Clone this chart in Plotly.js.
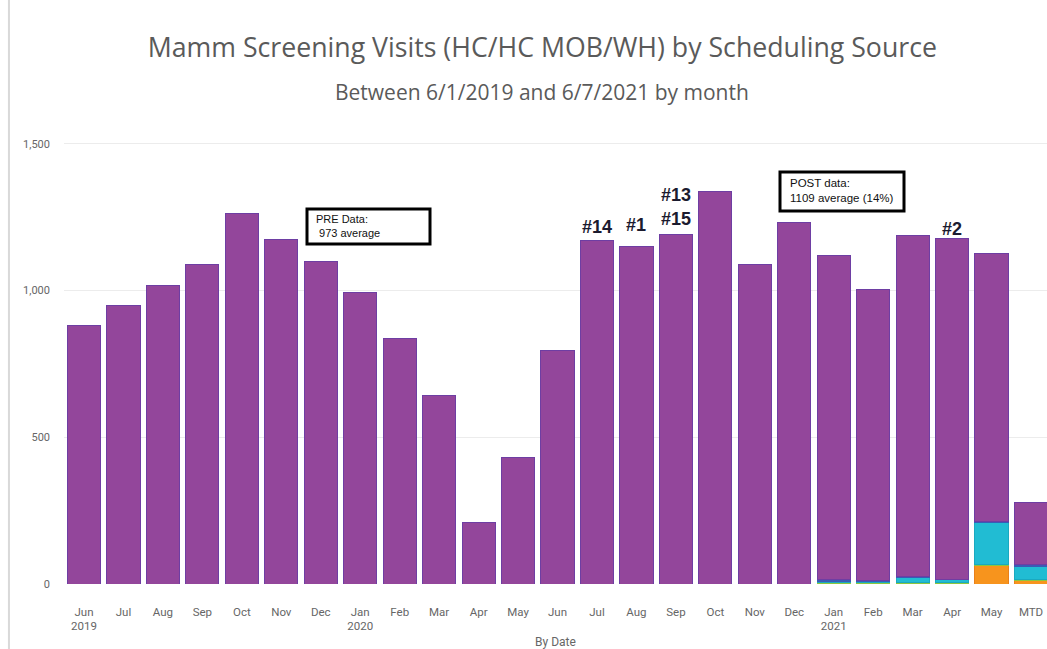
<!DOCTYPE html>
<html>
<head>
<meta charset="utf-8">
<script src="https://cdn.plot.ly/plotly-3.0.1.min.js"></script>
<style>
  html, body { margin: 0; padding: 0; background: #fff; }
  #chart { width: 1047px; height: 649px; }
</style>
</head>
<body>
<div id="chart"></div>
<script>
// Categories (months) and tick labels
const categories = ["Jun 2019","Jul 2019","Aug 2019","Sep 2019","Oct 2019","Nov 2019","Dec 2019",
  "Jan 2020","Feb 2020","Mar 2020","Apr 2020","May 2020","Jun 2020","Jul 2020","Aug 2020","Sep 2020",
  "Oct 2020","Nov 2020","Dec 2020","Jan 2021","Feb 2021","Mar 2021","Apr 2021","May 2021","MTD"];
const tickLabels = ["Jun<br>2019","Jul","Aug","Sep","Oct","Nov","Dec",
  "Jan<br>2020","Feb","Mar","Apr","May","Jun","Jul","Aug","Sep",
  "Oct","Nov","Dec","Jan<br>2021","Feb","Mar","Apr","May","MTD"];

// Total visits per month
const totals = [880, 948, 1016, 1087, 1261, 1173, 1098, 992, 835, 641, 208, 430, 794,
  1169, 1149, 1190, 1336, 1087, 1231, 1118, 1002, 1186, 1176, 1125, 276];

// Minor scheduling sources (only present from Jan 2021 on)
const orangeSrc = [0,0,0,0,0,0,0,0,0,0,0,0,0,0,0,0,0,0,0, 2, 2, 3, 2, 62, 12];
const greenSrc  = [0,0,0,0,0,0,0,0,0,0,0,0,0,0,0,0,0,0,0, 3, 2, 3, 2, 4, 4];
const cyanSrc   = [0,0,0,0,0,0,0,0,0,0,0,0,0,0,0,0,0,0,0, 5, 5, 15, 10, 143, 45];
const blueSrc   = [0,0,0,0,0,0,0,0,0,0,0,0,0,0,0,0,0,0,0, 4, 3, 3, 3, 3, 5];
const purpleSrc = totals.map((t, i) => t - orangeSrc[i] - greenSrc[i] - cyanSrc[i] - blueSrc[i]);

const yTicks = [0, 500, 1000, 1500];
const yTickText = ["0", "500", "1,000", "1,500"];

function bar(name, y, color, lineColor) {
  return {
    type: "bar", name: name, x: categories, y: y,
    marker: { color: color, line: { color: lineColor, width: 1 } },
    hoverinfo: "x+y+name"
  };
}

const data = [
  bar("Orange source", orangeSrc, "#f7941d", "#e8801a"),
  bar("Green source", greenSrc, "#8cc63f", "#8cc63f"),
  bar("Cyan source", cyanSrc, "#21bcd3", "#1aa9c0"),
  bar("Blue source", blueSrc, "#3b5bb5", "#3b5bb5"),
  bar("Purple source", purpleSrc, "#93469b", "#6e3ea3")
];

const annFont = { family: "Liberation Sans, Arial, sans-serif", size: 18, color: "#1b1b2f" };
const labelAnn = (x, y, t) => ({
  x: x, y: y, xref: "x", yref: "y", text: "<b>" + t + "</b>", showarrow: false,
  font: annFont, xanchor: "center", yanchor: "middle"
});

const layout = {
  width: 1047, height: 649,
  margin: { l: 64, r: 0, t: 129, b: 65 },
  paper_bgcolor: "#ffffff", plot_bgcolor: "#ffffff",
  barmode: "stack", bargap: 0.16,
  showlegend: false,
  font: { family: "Roboto, Open Sans, sans-serif", color: "#666" },
  title: {
    text: "Mamm Screening Visits (HC/HC MOB/WH) by Scheduling Source",
    font: { family: "Open Sans, Roboto, sans-serif", size: 26.7, color: "#5a5a5a" },
    x: 0.518, xanchor: "center", y: 0.927, yanchor: "middle"
  },
  xaxis: {
    type: "category",
    tickmode: "array", tickvals: categories, ticktext: tickLabels,
    range: [-0.507, 24.405],
    tickfont: { size: 11.5, color: "#666" },
    showgrid: false, zeroline: false, showline: false, ticks: "",
    ticklabelstandoff: 19,
    title: { text: "By Date", font: { size: 12, color: "#666" }, standoff: 6 },
    fixedrange: true
  },
  yaxis: {
    range: [0, 1550],
    tickmode: "array", tickvals: yTicks, ticktext: yTickText,
    tickfont: { size: 11, color: "#666" },
    showgrid: true, gridcolor: "#ececec", gridwidth: 1,
    zeroline: false, showline: false, ticks: "",
    ticklabelstandoff: 13,
    fixedrange: true
  },
  shapes: [
    { type: "line", xref: "paper", yref: "paper", x0: -0.056, x1: -0.056, y0: -0.2, y1: 1.3,
      line: { color: "#d9d9d9", width: 2 } },
    { type: "rect", xref: "paper", yref: "paper",
      x0: (307 - 64) / 983, x1: (430 - 64) / 983,
      y0: (584 - 244) / 455, y1: (584 - 209) / 455,
      line: { color: "#000", width: 3 }, fillcolor: "#fff" },
    { type: "rect", xref: "paper", yref: "paper",
      x0: (780 - 64) / 983, x1: (904 - 64) / 983,
      y0: (584 - 211) / 455, y1: (584 - 172) / 455,
      line: { color: "#000", width: 3 }, fillcolor: "#fff" }
  ],
  annotations: [
    { xref: "paper", yref: "paper", x: (542 - 64) / 983, y: (584 - 92) / 455, xanchor: "center", yanchor: "middle",
      text: "Between 6/1/2019 and 6/7/2021 by month", showarrow: false,
      font: { family: "Open Sans, Roboto, sans-serif", size: 21, color: "#5a5a5a" } },
    { xref: "paper", yref: "paper", x: (314 - 64) / 983, y: (584 - 226) / 455, xanchor: "left", yanchor: "middle",
      align: "left", text: "PRE Data:<br> 973 average", showarrow: false,
      font: { family: "Liberation Sans, Arial, sans-serif", size: 11, color: "#111" } },
    { xref: "paper", yref: "paper", x: (788 - 64) / 983, y: (584 - 191) / 455, xanchor: "left", yanchor: "middle",
      align: "left", text: "POST data:<br>1109 average (14%)", showarrow: false,
      font: { family: "Liberation Sans, Arial, sans-serif", size: 11.5, color: "#111" } },
    labelAnn(categories[13], 1215, "#14"),
    labelAnn(categories[14], 1222, "#1"),
    labelAnn(categories[15], 1325, "#13"),
    labelAnn(categories[15], 1243, "#15"),
    labelAnn(categories[22], 1210, "#2")
  ]
};

Plotly.newPlot("chart", data, layout, { displayModeBar: false, staticPlot: true });
</script>
</body>
</html>
